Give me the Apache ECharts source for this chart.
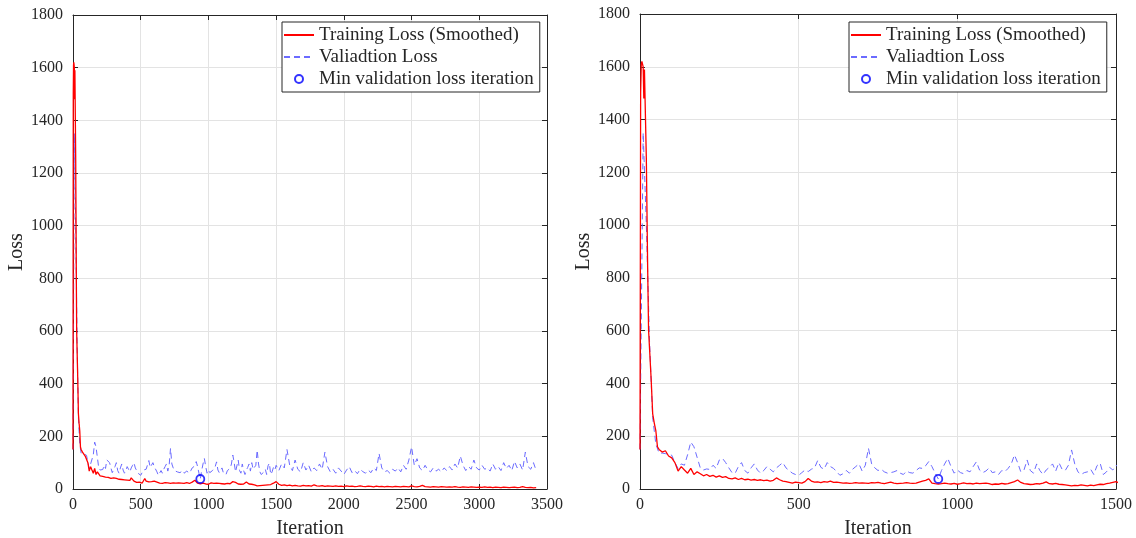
<!DOCTYPE html>
<html><head><meta charset="utf-8">
<script src="https://cdn.jsdelivr.net/npm/echarts@6/dist/echarts.min.js"></script>
<style>html,body{margin:0;padding:0;background:#fff}#c{width:1136px;height:538px}</style>
</head><body><div id="c"></div>
<script>
// ---- Data ----
const seriesNames = ['Training Loss (Smoothed)', 'Valiadtion Loss', 'Min validation loss iteration'];

// Training loss, first iterations (explicit iteration numbers)
const trainEarlyIter = [0, 2, 4, 6, 8, 10, 12, 14, 17, 20, 24, 27, 31, 35, 40, 45, 50, 55];
const trainEarlyLoss = [150, 1500, 1610, 1620, 1615, 1600, 1480, 1590, 1585, 1250, 850, 602, 598, 420, 285, 250, 220, 160];

// Training loss every 10 iterations, from iteration 60 to 1500
const trainMidStart = 60, trainMidStep = 10;
const trainMidLoss = [
  150, 140, 145, 125, 118, 100, 68, 85, 72, 60,
  78, 55, 65, 58, 50, 55, 48, 52, 45, 50,
  44, 47, 40, 38, 42, 36, 40, 35, 37, 34,
  36, 33, 35, 32, 34, 30, 33, 42, 35, 30,
  28, 25, 22, 26, 24, 22, 28, 40, 30, 26,
  27, 24, 28, 26, 30, 25, 26, 24, 22, 23,
  21, 22, 24, 22, 23, 22, 21, 24, 23, 25,
  22, 20, 23, 26, 22, 20, 21, 22, 24, 22,
  21, 22, 26, 30, 33, 38, 22, 20, 19, 20,
  22, 20, 19, 21, 18, 20, 23, 20, 21, 19,
  22, 20, 21, 22, 20, 17, 19, 18, 21, 19,
  20, 24, 28, 34, 25, 20, 19, 17, 18, 20,
  19, 22, 27, 20, 19, 21, 18, 17, 16, 14,
  12, 14, 13, 16, 14, 12, 15, 13, 16, 18,
  17, 20, 22, 25, 28
];

// Training loss every 20 iterations, from iteration 1520
const trainLateStart = 1520, trainLateStep = 20;
const trainLateLoss = [
  18, 14, 16, 13, 15, 12, 14, 12, 11, 14,
  12, 13, 11, 16, 12, 11, 13, 10, 12, 11,
  10, 12, 10, 11, 9, 12, 10, 11, 9, 10,
  12, 10, 9, 11, 10, 8, 11, 9, 10, 8,
  10, 9, 8, 10, 9, 8, 10, 9, 8, 12,
  9, 8, 10, 14, 9, 8, 7, 9, 8, 7,
  9, 8, 7, 8, 7, 9, 7, 6, 8, 7,
  6, 8, 7, 6, 7, 6, 8, 6, 7, 5,
  7, 6, 5, 7, 6, 5, 6, 7, 5, 6,
  9, 6, 5, 6, 4, 5
];

// Validation loss every 10 iterations, from iteration 0 to 1500
const valEarlyStart = 0, valEarlyStep = 10;
const valEarlyLoss = [
  150, 1350, 1000, 560, 270, 170, 136, 136, 134, 132,
  128, 100, 78, 95, 90, 130, 178, 160, 120, 80,
  72, 76, 74, 90, 78, 110, 116, 100, 80, 62,
  60, 85, 100, 70, 60, 80, 95, 72, 60, 70,
  85, 75, 65, 80, 90, 100, 80, 70, 60, 55,
  52, 62, 72, 66, 75, 80, 108, 82, 75, 100,
  85, 78, 65, 52, 58, 70, 60, 75, 85, 95,
  68, 90, 154, 95, 80, 70, 75, 65, 60, 62,
  65, 70, 60, 55, 68, 62, 60, 70, 80, 78,
  88, 104, 85, 60, 38, 70, 95, 116, 85, 60,
  72, 62, 58, 70, 65, 85, 103, 72, 62, 68,
  80, 62, 65, 55, 70, 66, 78, 95, 129, 100,
  65, 72, 110, 70, 60, 95, 70, 55, 72, 82,
  95, 68, 100, 75, 70, 90, 148, 95, 65, 55,
  62, 65, 75, 55, 88, 98, 55, 65, 82, 72,
  90
];

// Validation loss every 20 iterations, from iteration 1520
const valLateStart = 1520, valLateStep = 20;
const valLateLoss = [
  70, 95, 80, 150, 90, 70, 110, 75, 65, 100,
  72, 90, 65, 80, 70, 95, 75, 140, 85, 65,
  75, 60, 80, 68, 55, 72, 85, 62, 70, 58,
  75, 66, 60, 72, 62, 80, 70, 135, 80, 65,
  70, 60, 75, 68, 80, 65, 90, 75, 110, 160,
  90, 115, 80, 70, 90, 72, 65, 80, 68, 75,
  65, 80, 70, 85, 72, 95, 80, 125, 90, 70,
  85, 75, 110, 80, 72, 90, 75, 80, 68, 95,
  75, 85, 70, 100, 78, 90, 70, 105, 80, 95,
  72, 140, 85, 75, 100, 70
];

// Minimum validation loss point
const minValIter = 940;
const minValLoss = 38;

// Axis settings
const leftXMax = 3500, rightXMax = 1500, xInterval = 500;
const yMax = 1800, yInterval = 200;

// ---- Build series data ----
function stepped(start, step, vals) { return vals.map((v, i) => [start + i * step, v]); }
const trainData = trainEarlyIter.map((x, i) => [x, trainEarlyLoss[i]])
  .concat(stepped(trainMidStart, trainMidStep, trainMidLoss))
  .concat(stepped(trainLateStart, trainLateStep, trainLateLoss));
const valData = stepped(valEarlyStart, valEarlyStep, valEarlyLoss)
  .concat(stepped(valLateStart, valLateStep, valLateLoss));

const FONT = 'Liberation Serif';
const TXT = '#262626';
const plain = v => String(v);

function xAxes(gi, max) {
  return [{
    gridIndex: gi, type: 'value', min: 0, max: max, interval: xInterval,
    axisLine: { show: true, onZero: false, lineStyle: { color: TXT, width: 1 } },
    axisTick: { show: true, inside: true, length: 5, lineStyle: { color: TXT } },
    axisLabel: { color: TXT, fontFamily: FONT, fontSize: 16, margin: 8, formatter: plain },
    splitLine: { show: true, lineStyle: { color: '#e3e3e3', width: 1 } },
    name: 'Iteration', nameLocation: 'middle', nameGap: 30,
    nameTextStyle: { color: TXT, fontFamily: FONT, fontSize: 20 }
  }, {
    gridIndex: gi, type: 'value', min: 0, max: max, interval: xInterval, position: 'top',
    axisLine: { show: true, onZero: false, lineStyle: { color: TXT, width: 1 } },
    axisTick: { show: true, inside: true, length: 5, lineStyle: { color: TXT } },
    axisLabel: { show: false }, splitLine: { show: false }
  }];
}
function yAxes(gi) {
  return [{
    gridIndex: gi, type: 'value', min: 0, max: yMax, interval: yInterval,
    axisLine: { show: true, onZero: false, lineStyle: { color: TXT, width: 1 } },
    axisTick: { show: true, inside: true, length: 5, lineStyle: { color: TXT } },
    axisLabel: { color: TXT, fontFamily: FONT, fontSize: 16, margin: 10, formatter: plain },
    splitLine: { show: true, lineStyle: { color: '#e3e3e3', width: 1 } },
    name: 'Loss', nameLocation: 'middle', nameGap: 43, nameRotate: 90,
    nameTextStyle: { color: TXT, fontFamily: FONT, fontSize: 20 }
  }, {
    gridIndex: gi, type: 'value', min: 0, max: yMax, interval: yInterval, position: 'right',
    axisLine: { show: true, onZero: false, lineStyle: { color: TXT, width: 1 } },
    axisTick: { show: true, inside: true, length: 5, lineStyle: { color: TXT } },
    axisLabel: { show: false }, splitLine: { show: false }
  }];
}
function seriesFor(gi) {
  const xi = gi * 2, yi = gi * 2;
  return [{
    name: seriesNames[0], type: 'line', xAxisIndex: xi, yAxisIndex: yi,
    data: trainData, symbol: 'none', showSymbol: false, clip: true,
    lineStyle: { color: '#ff0000', width: 1.3 }, itemStyle: { color: '#ff0000' }, z: 3
  }, {
    name: seriesNames[1], type: 'line', xAxisIndex: xi, yAxisIndex: yi,
    data: valData, symbol: 'none', showSymbol: false, clip: true,
    lineStyle: { color: '#6b6bff', width: 1, type: [6, 4] }, itemStyle: { color: '#6b6bff' }, z: 2
  }, {
    name: seriesNames[2], type: 'scatter', xAxisIndex: xi, yAxisIndex: yi,
    data: [[minValIter, minValLoss]], symbol: 'circle', symbolSize: 8,
    itemStyle: { color: 'rgba(0,0,0,0)', borderColor: '#0000ff', borderWidth: 1.8 }, z: 5
  }];
}
function legendFor(left) {
  return {
    orient: 'vertical', left: left, top: 22,
    data: [
      { name: seriesNames[0], itemStyle: { opacity: 0 } },
      { name: seriesNames[1], itemStyle: { opacity: 0 } },
      { name: seriesNames[2] }
    ],
    itemWidth: 30, itemHeight: 8, itemGap: 2,
    padding: [3, 6, 3, 1],
    borderColor: TXT, borderWidth: 1, backgroundColor: '#fff',
    textStyle: { color: TXT, fontFamily: FONT, fontSize: 19, lineHeight: 20 },
    selectedMode: false
  };
}

const chart = echarts.init(document.getElementById('c'), null, { renderer: 'canvas' });
chart.setOption({
  animation: false,
  backgroundColor: '#ffffff',
  grid: [
    { left: 73, right: 589, top: 15, bottom: 49, outerBoundsMode: 'none', containLabel: false },
    { left: 640, right: 20, top: 14, bottom: 49, outerBoundsMode: 'none', containLabel: false }
  ],
  xAxis: xAxes(0, leftXMax).concat(xAxes(1, rightXMax)),
  yAxis: yAxes(0).concat(yAxes(1)),
  legend: [legendFor(282), legendFor(849)],
  series: seriesFor(0).concat(seriesFor(1))
});
</script></body></html>
